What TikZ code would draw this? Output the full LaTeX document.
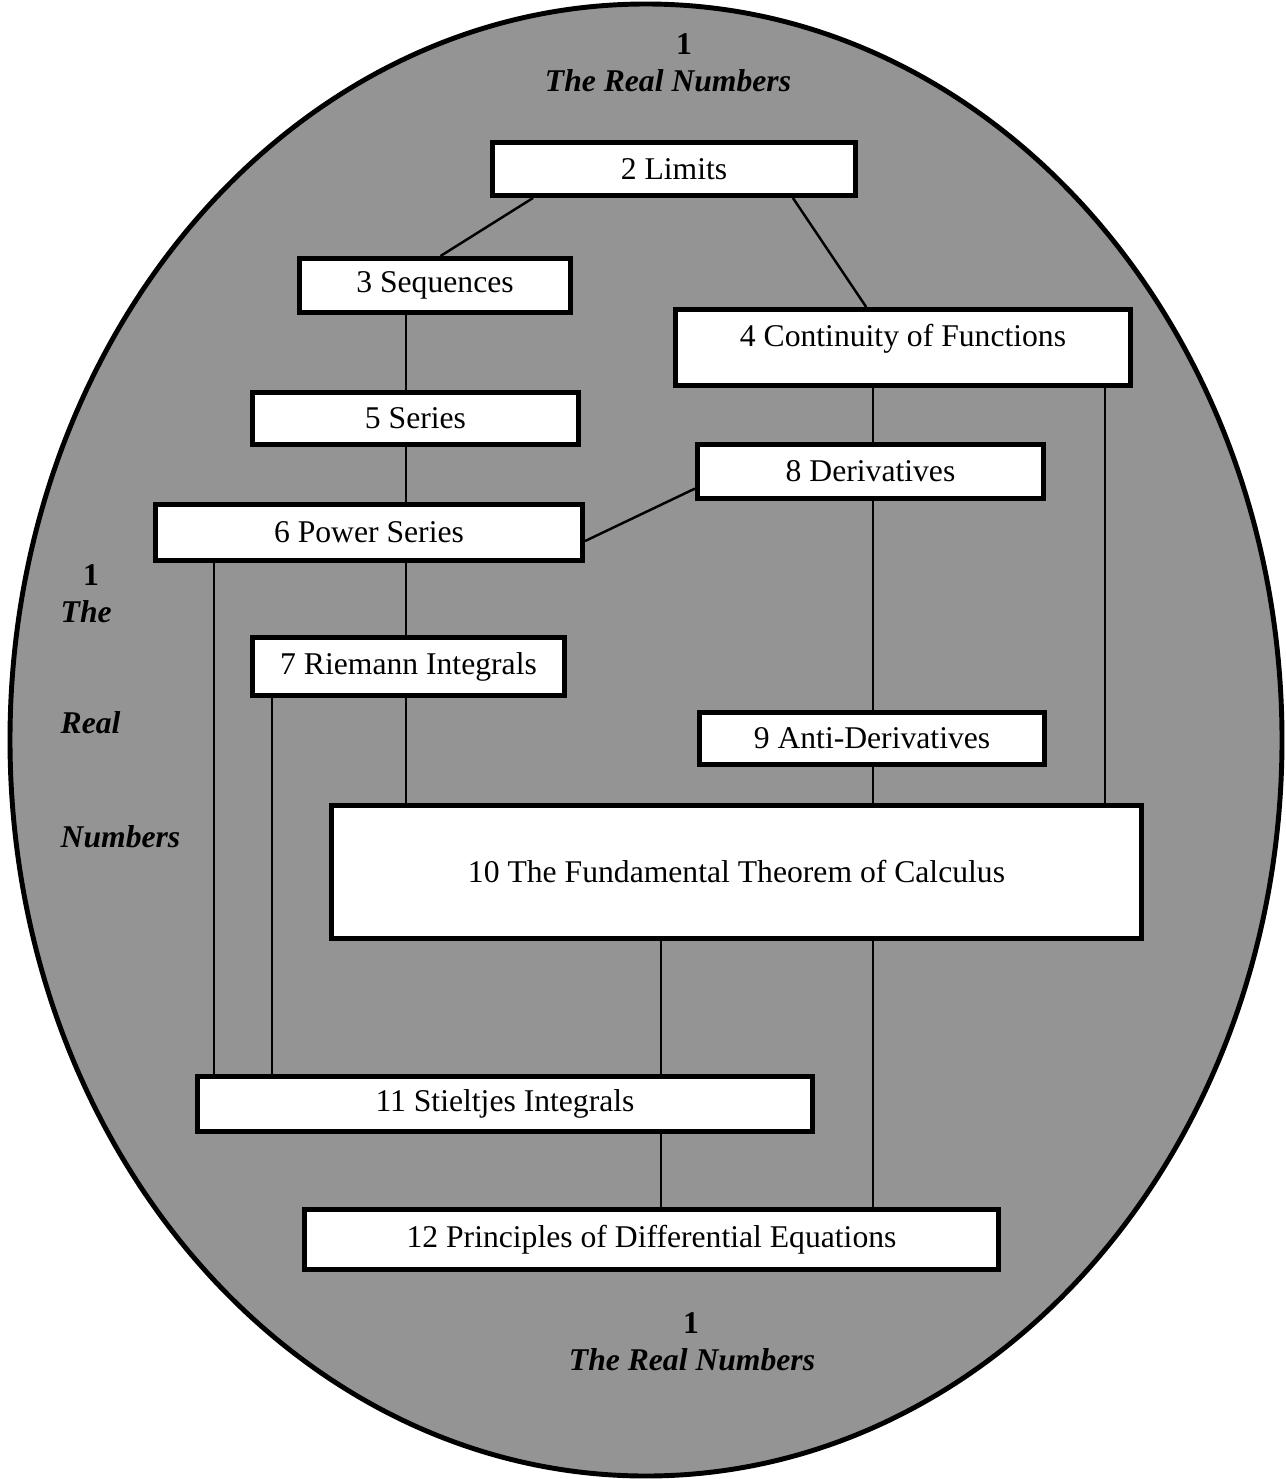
\documentclass[tikz,border=0pt]{standalone}
\usepackage{fontspec}
\setmainfont{Liberation Serif}
\usetikzlibrary{calc}

\begin{document}
\begin{tikzpicture}[
  x=0.01cm, y=-0.01cm,
  topic/.style={draw, line width=1.4pt, fill=white, inner sep=0pt,
    font=\fontsize{9}{11}\selectfont},
  link/.style={line width=0.7pt},
  realnum/.style={font=\fontsize{9}{11}\selectfont\bfseries\itshape,
    inner sep=0pt, anchor=base},
  chapone/.style={font=\fontsize{9}{11}\selectfont\bfseries,
    inner sep=0pt, anchor=base}
]
  \useasboundingbox (0,0) rectangle (1286,1479);

  % chapter 1 surrounds the rest
  \draw[line width=1.4pt, fill=black!42] (646,740) ellipse [x radius=636, y radius=736];

  \node[chapone] (topone) at (684,55) {1};
  \node[realnum] (toptitle) at (668,92) {The Real Numbers};
  \node[chapone] (botone) at (691,1333) {1};
  \node[realnum] (bottitle) at (692,1370) {The Real Numbers};
  \node[chapone] (leftone) at (91,585) {1};
  \node[realnum, anchor=base west] (leftthe) at (60,622) {The};
  \node[realnum, anchor=base west] (leftreal) at (60,733) {Real};
  \node[realnum, anchor=base west] (leftnum) at (60,847) {Numbers};

  % chapters 2--12
  \node[topic, minimum width=3.63cm, minimum height=0.53cm] (lim) at (674,169) {2 Limits};
  \node[topic, minimum width=2.71cm, minimum height=0.54cm] (seq) at (435,285.5) {3 Sequences};
  \node[topic, minimum width=4.55cm, minimum height=0.76cm, text depth=0.25cm] (cont) at (903,347.5) {4 Continuity of Functions};
  \node[topic, minimum width=3.26cm, minimum height=0.52cm] (ser) at (415.5,418.5) {5 Series};
  \node[topic, minimum width=4.27cm, minimum height=0.56cm] (pow) at (369,532.5) {6 Power Series};
  \node[topic, minimum width=3.12cm, minimum height=0.58cm] (rie) at (408.5,666.5) {7 Riemann Integrals};
  \node[topic, minimum width=3.46cm, minimum height=0.54cm] (der) at (870.5,471.5) {8 Derivatives};
  \node[topic, minimum width=3.45cm, minimum height=0.52cm] (anti) at (872,738.5) {9 Anti-Derivatives};
  \node[topic, minimum width=8.10cm, minimum height=1.33cm] (ftc) at (736.5,872) {10 The Fundamental Theorem of Calculus};
  \node[topic, minimum width=6.15cm, minimum height=0.55cm] (stj) at (505,1104) {11 Stieltjes Integrals};
  \node[topic, minimum width=6.94cm, minimum height=0.60cm] (pri) at (651.5,1239.5) {12 Principles of Differential Equations};

  % columns for the vertical links
  \coordinate (colA) at (406,0);
  \coordinate (colB) at (873,0);
  \coordinate (colC) at (1105,0);
  \coordinate (colD) at (214,0);
  \coordinate (colE) at (272,0);
  \coordinate (colF) at (661,0);

  % slanted links
  \draw[link] ($(lim.south west)!0.117!(lim.south east)$) -- ($(seq.north west)!0.52!(seq.north east)$);
  \draw[link] ($(lim.south west)!0.823!(lim.south east)$) -- ($(cont.north west)!0.42!(cont.north east)$);
  \draw[link] ($(pow.south east)!0.36!(pow.north east)$) -- ($(der.south west)!0.21!(der.north west)$);

  % vertical links
  \draw[link] (seq.south -| colA) -- (ser.north -| colA);
  \draw[link] (ser.south -| colA) -- (pow.north -| colA);
  \draw[link] (pow.south -| colA) -- (rie.north -| colA);
  \draw[link] (rie.south -| colA) -- (ftc.north -| colA);
  \draw[link] (cont.south -| colB) -- (der.north -| colB);
  \draw[link] (der.south -| colB) -- (anti.north -| colB);
  \draw[link] (anti.south -| colB) -- (ftc.north -| colB);
  \draw[link] (cont.south -| colC) -- (ftc.north -| colC);
  \draw[link] (pow.south -| colD) -- (stj.north -| colD);
  \draw[link] (rie.south -| colE) -- (stj.north -| colE);
  \draw[link] (ftc.south -| colF) -- (stj.north -| colF);
  \draw[link] (stj.south -| colF) -- (pri.north -| colF);
  \draw[link] (ftc.south -| colB) -- (pri.north -| colB);
\end{tikzpicture}
\end{document}
